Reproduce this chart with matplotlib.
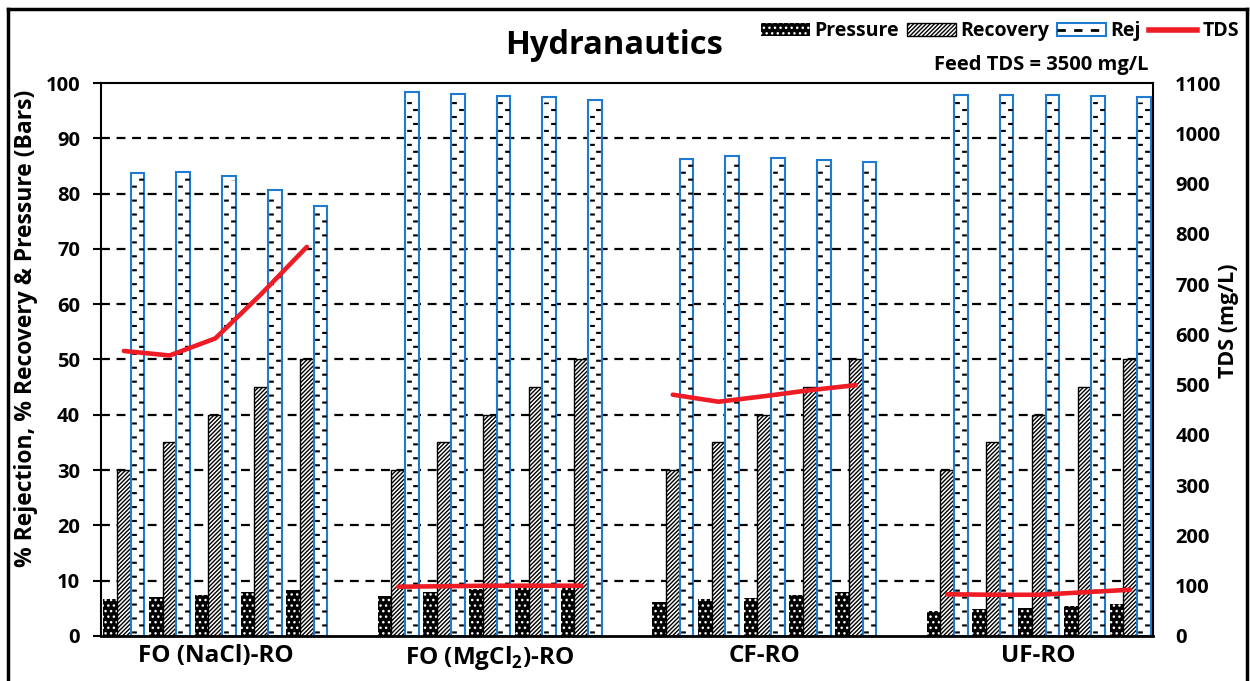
import numpy as np
import matplotlib
matplotlib.use('Agg')
import matplotlib.pyplot as plt
from matplotlib.patches import Patch
from matplotlib.lines import Line2D

plt.rcParams['font.family'] = ['Open Sans', 'DejaVu Sans']
plt.rcParams['font.weight'] = 'bold'
plt.rcParams['mathtext.fontset'] = 'custom'
plt.rcParams['mathtext.rm'] = 'Open Sans:bold'
plt.rcParams['mathtext.bf'] = 'Open Sans:bold'
plt.rcParams['hatch.linewidth'] = 1.0

# data
groups = ['FO (NaCl)-RO', r'FO (MgCl$_{\mathbf{2}}$)-RO', 'CF-RO', 'UF-RO']
recovery = [30, 35, 40, 45, 50]

pressure_nacl = [6.7, 7.0, 7.4, 7.9, 8.3]
pressure_mgcl2 = [7.3, 7.9, 8.5, 8.6, 8.8]
pressure_cf = [6.2, 6.7, 6.9, 7.4, 8.0]
pressure_uf = [4.5, 4.8, 5.1, 5.4, 5.8]

rej_nacl = [83.8, 83.9, 83.2, 80.6, 77.8]
rej_mgcl2 = [98.3, 98.0, 97.7, 97.4, 97.0]
rej_cf = [86.2, 86.8, 86.4, 86.0, 85.7]
rej_uf = [97.8, 97.8, 97.8, 97.6, 97.4]

tds_nacl = [567, 558, 592, 680, 774]
tds_mgcl2 = [98, 99, 100, 100, 100]
tds_cf = [480, 466, 477, 489, 499]
tds_uf = [83, 82, 82, 87, 92]

BLUE = '#1f7ad1'
RED = '#ee1c25'


def main():
    pressure = [pressure_nacl, pressure_mgcl2, pressure_cf, pressure_uf]
    rej = [rej_nacl, rej_mgcl2, rej_cf, rej_uf]
    tds = [tds_nacl, tds_mgcl2, tds_cf, tds_uf]

    fig = plt.figure(figsize=(12.5, 6.81), dpi=100)
    ax = fig.add_axes([0.0808, 0.0661, 0.8416, 0.812])
    w = 0.3

    centers = []
    for g in range(len(groups)):
        x = np.arange(5) + g * 6
        centers.append(x.mean())
        ax.bar(x - w, pressure[g], w, facecolor='black', edgecolor='white',
               linewidth=0, hatch='...', zorder=2)
        ax.bar(x, recovery, w, facecolor='white', edgecolor='black',
               linewidth=1.0, hatch='////////', zorder=2)
        ax.bar(x + w, rej[g], w, facecolor='white', edgecolor=BLUE,
               linewidth=1.5, zorder=2)
        # dashed-horizontal fill of the Rej bars
        ax.vlines(x + w - w / 4, 0.6, np.array(rej[g]) - 0.8, color='black',
                  linewidth=3.4, linestyles=[(0, (0.45, 2.5))], zorder=3)
        ax.vlines(x + w + w / 4, 0.6, np.array(rej[g]) - 0.8, color='black',
                  linewidth=3.4, linestyles=[(1.47, (0.45, 2.5))], zorder=3)

    ax.set_xlim(-0.5, 22.5)
    ax.set_ylim(0, 100)
    ax.set_yticks(np.arange(0, 101, 10))
    ax.set_xticks(centers)
    ax.set_xticklabels(groups, fontsize=17.5, fontweight='bold')
    ax.tick_params(axis='x', length=0, pad=6)
    ax.tick_params(axis='y', length=6, width=1.5, labelsize=14.5, pad=9)
    for v in range(10, 100, 10):
        ax.axhline(v, color='black', linewidth=1.6, linestyle=(0, (4, 3)), zorder=1)
    for s in ['left', 'top', 'right']:
        ax.spines[s].set_linewidth(1.5)
    ax.spines['bottom'].set_linewidth(2)
    ax.set_ylabel('% Rejection, % Recovery & Pressure (Bars)', fontsize=16.5,
                  fontweight='bold')
    ax.yaxis.set_label_coords(-0.060, 0.557)

    ax2 = ax.twinx()
    for g in range(len(groups)):
        x = np.arange(5) + g * 6
        ax2.plot(x, tds[g], color=RED, linewidth=3.3, solid_capstyle='round',
                 zorder=5)
    ax2.set_ylim(0, 1100)
    ax2.set_yticks(np.arange(0, 1101, 100))
    ax2.tick_params(axis='y', length=0, labelsize=14.5, pad=16)
    ax2.set_ylabel('TDS (mg/L)', fontsize=15.5, fontweight='bold')
    ax2.yaxis.set_label_coords(1.062, 0.57)
    for s in ax2.spines.values():
        s.set_visible(False)

    fig.text(0.491, 0.933, 'Hydranautics', fontsize=23.5, fontweight='bold',
             ha='center', va='center')
    fig.text(0.833, 0.905, 'Feed TDS = 3500 mg/L', fontsize=14.5,
             fontweight='bold', ha='center', va='center')

    h_p = Patch(facecolor='black', edgecolor='white', linewidth=0, hatch='...')
    h_r = Patch(facecolor='white', edgecolor='black', linewidth=1.0, hatch='////////')
    h_j = (Patch(facecolor='white', edgecolor=BLUE, linewidth=1.5),
           Line2D([], [], color='black', linewidth=2, linestyle=(0, (3, 3))))
    h_t = Line2D([], [], color=RED, linewidth=4)
    fig.legend([h_p, h_r, h_j, h_t], ['Pressure', 'Recovery', 'Rej', 'TDS'],
               loc='center', bbox_to_anchor=(0.8, 0.954), ncol=4, frameon=False,
               prop={'size': 14, 'weight': 'bold'}, handlelength=2.5,
               handleheight=0.6, handletextpad=0.25, columnspacing=0.4)

    # outer frame of the picture
    fig.add_artist(Line2D([0.0064, 0.0064], [-0.01, 0.987], color='black',
                          linewidth=2.5, transform=fig.transFigure))
    fig.add_artist(Line2D([0.0064, 0.9976], [0.987, 0.987], color='black',
                          linewidth=2.5, transform=fig.transFigure))
    fig.add_artist(Line2D([0.9976, 0.9976], [-0.01, 0.987], color='black',
                          linewidth=2.5, transform=fig.transFigure))

    fig.savefig('out.png', dpi=100)


if __name__ == '__main__':
    main()
